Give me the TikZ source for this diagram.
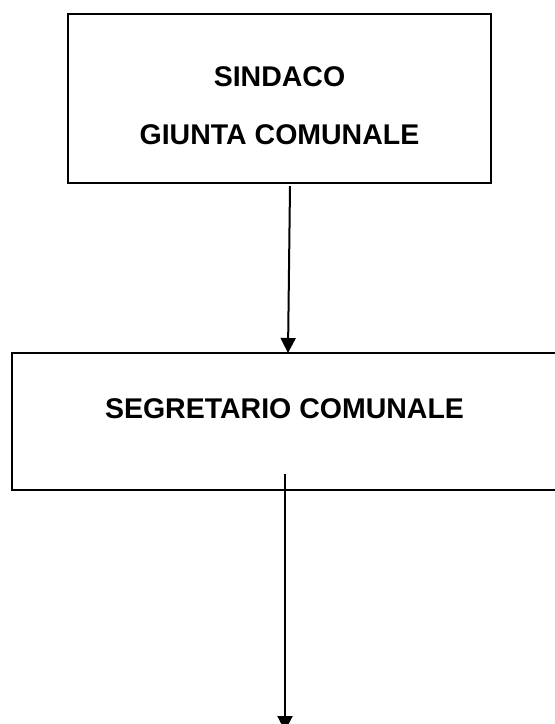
\documentclass[tikz,border=0pt]{standalone}
\usepackage{fontspec}
\setmainfont{Liberation Sans}
\usetikzlibrary{arrows.meta}
\begin{document}
\begin{tikzpicture}[x=1pt,y=-1pt,
  box/.style={draw=black, line width=2.2pt, inner sep=0pt},
  lbl/.style={font=\bfseries\fontsize{28.5}{34}\selectfont, inner sep=0pt},
  arr/.style={draw=black, line width=2pt, -{Triangle[length=15pt,width=15pt]}}]
\useasboundingbox (0,0) rectangle (555,724);
\node[box, minimum width=423pt, minimum height=169pt] (top) at (279.5,98.5) {};
\node[box, minimum width=550pt, minimum height=137pt] (mid) at (287,421.5) {};
\node[lbl] (sind) at (279.5,77) {SINDACO};
\node[lbl] (giunta) at (279.5,135) {GIUNTA COMUNALE};
\node[lbl] (segr) at (284.5,409) {SEGRETARIO COMUNALE};
\coordinate (a1s) at (290,186);
\coordinate (a1e) at (288,353);
\coordinate (a2s) at (285,474);
\coordinate (a2e) at (285,731);
\draw[arr] (a1s) -- (a1e);
\draw[arr] (a2s) -- (a2e);
\end{tikzpicture}
\end{document}
